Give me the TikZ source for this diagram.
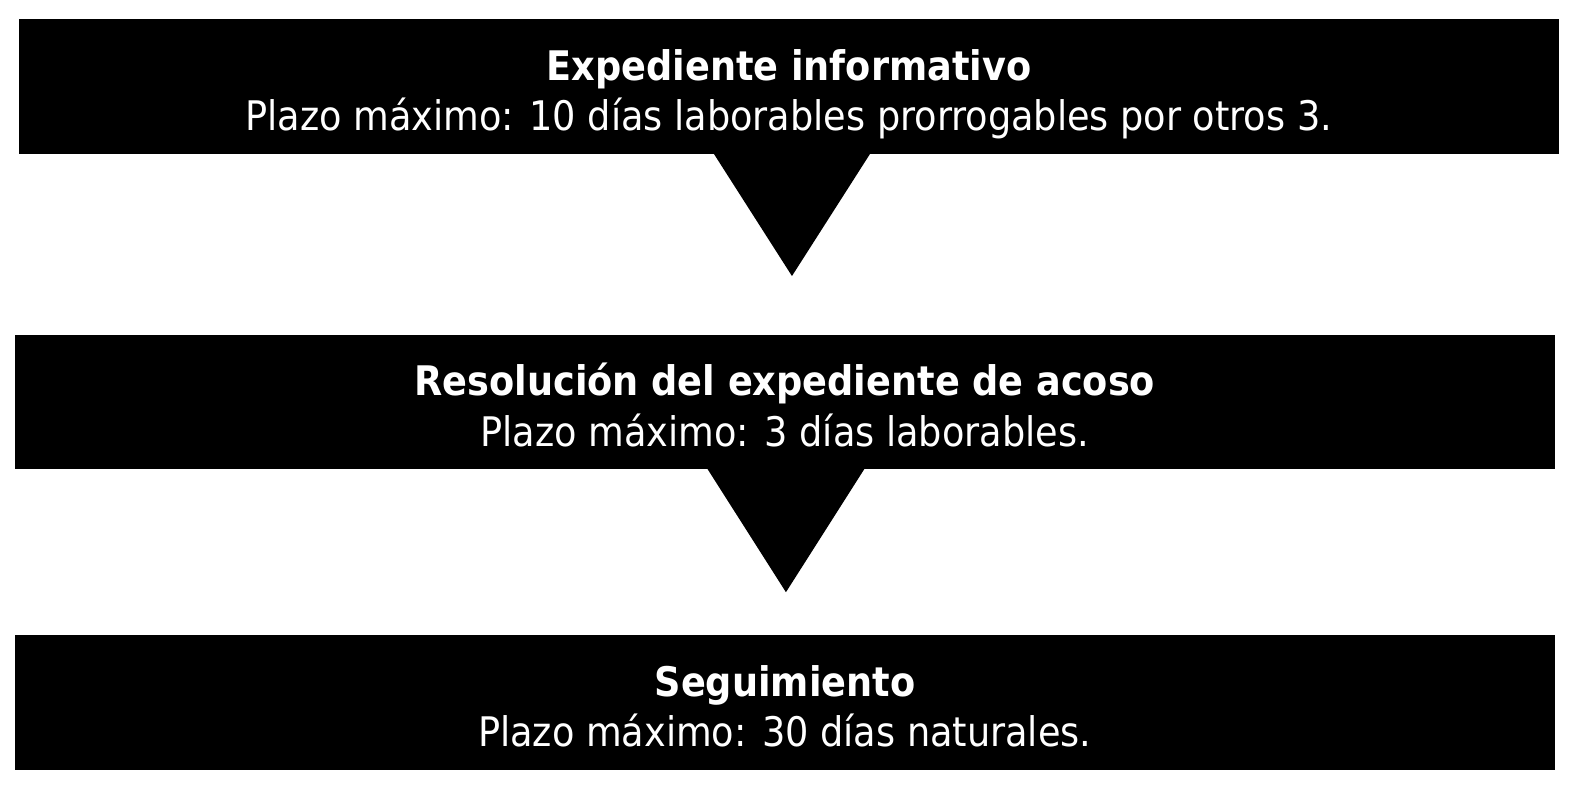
\documentclass[tikz,border=0pt]{standalone}
\usepackage{fontspec}
\setmainfont{DejaVu Sans Condensed}
\newcommand{\TopStrut}{\rule{0pt}{24pt}}
\newcommand{\BotStrut}{\rule[-5pt]{0pt}{5pt}}
\begin{document}
\begin{tikzpicture}[x=0.5pt,y=-0.5pt]
  \tikzset{stage/.style={fill=black, text=white, minimum width=767pt, minimum height=67pt,
      inner sep=0pt, align=center, font=\fontsize{20.3}{25}\selectfont},
    pointer/.style={fill=black}}
  \useasboundingbox (0,0) rectangle (1570.1,790);
  % stages
  \node[stage] (info) at (786,86)  {\TopStrut\textbf{Expediente informativo}\\Plazo máximo: 10 días laborables prorrogables por otros 3.\BotStrut};
  \node[stage] (res)  at (782,400.5) {\TopStrut\textbf{Resolución del expediente de acoso}\\Plazo máximo: 3 días laborables.\BotStrut};
  \node[stage] (seg)  at (782,700) {\TopStrut\textbf{Seguimiento}\\Plazo máximo: 30 días naturales.\BotStrut};
  % pointers between stages (start a bit inside the box, no seam)
  \coordinate (tipA) at (789,275);
  \coordinate (tipB) at (783,590);
  \fill[pointer] ([xshift=-39.5pt,yshift=1pt]info.south -| tipA) -- (tipA) -- ([xshift=39.5pt,yshift=1pt]info.south -| tipA) -- cycle;
  \fill[pointer] ([xshift=-39.5pt,yshift=1pt]res.south -| tipB) -- (tipB) -- ([xshift=39.5pt,yshift=1pt]res.south -| tipB) -- cycle;
\end{tikzpicture}
\end{document}
